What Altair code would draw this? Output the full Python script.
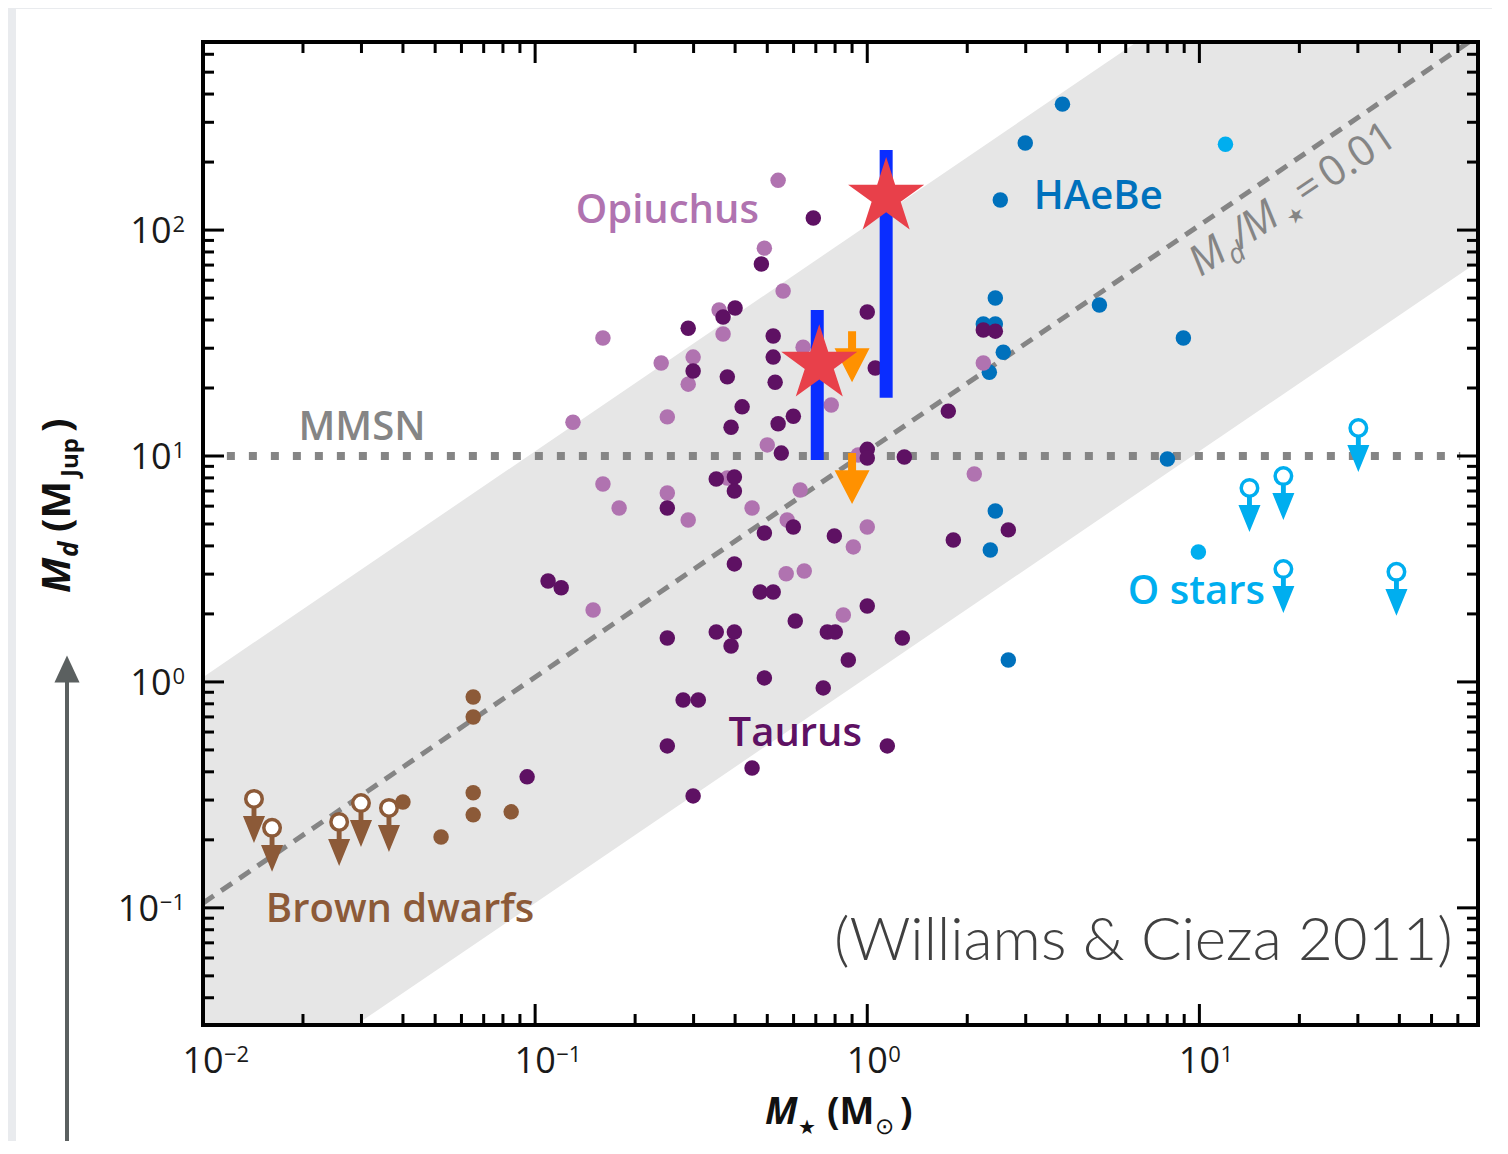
import math
import pandas as pd
import altair as alt

# ---------------- data ----------------
# Taurus (dark purple)
taurus_x = [0.688, 0.480, 0.400, 0.368, 0.289, 0.521, 0.521, 0.299, 0.379, 0.528,
            1.0, 1.057, 0.420, 0.599, 0.389, 0.539, 0.551, 1.0, 1.0, 1.293,
            0.351, 0.398, 0.398, 0.250, 0.490, 0.599, 0.796, 0.398, 0.1094, 0.1198,
            0.250, 0.351, 0.398, 0.389, 0.476, 0.521, 0.607, 0.758, 0.801, 1.0,
            1.275, 0.877, 0.490, 0.737, 0.279, 0.310, 0.250, 0.450, 0.299, 1.149,
            0.0946, 2.236, 2.430, 1.754, 2.659, 1.816]
taurus_y = [113, 70.8, 45.2, 41.2, 36.8, 34.0, 27.4, 23.8, 22.4, 21.2,
            43.4, 24.5, 16.5, 15.0, 13.4, 13.9, 10.3, 10.7, 9.80, 9.90,
            7.91, 8.07, 7.00, 5.89, 4.56, 4.85, 4.43, 3.33, 2.80, 2.61,
            1.565, 1.664, 1.664, 1.443, 2.50, 2.50, 1.862, 1.664, 1.664, 2.17,
            1.565, 1.251, 1.042, 0.941, 0.832, 0.832, 0.521, 0.416, 0.313, 0.521,
            0.380, 36.1, 35.7, 15.8, 4.71, 4.25]
# Ophiuchus (light purple)
oph_x = [0.539, 0.490, 0.558, 0.358, 0.368, 0.160, 0.2396, 0.299, 0.289, 0.130,
         0.250, 0.641, 0.779, 0.500, 0.939, 0.160, 0.250, 0.179, 0.289, 0.450,
         0.628, 0.574, 0.379, 1.0, 0.908, 0.570, 0.646, 0.1495, 0.847, 2.236, 2.10]
oph_y = [166, 83.2, 53.7, 44.3, 34.7, 33.3, 25.8, 27.4, 20.8, 14.1,
         14.9, 30.3, 16.8, 11.2, 10.1, 7.52, 6.86, 5.89, 5.21, 5.89,
         7.07, 5.21, 7.99, 4.85, 3.96, 3.01, 3.10, 2.08, 1.98, 25.8, 8.32]
# Herbig Ae/Be (blue)
hae_x = [3.87, 2.99, 2.515, 2.430, 2.236, 2.430, 2.568, 2.331, 5.00, 8.95, 8.01, 2.430, 2.347, 2.659]
hae_y = [361, 243, 136, 50.0, 38.4, 38.4, 28.8, 23.5, 46.6, 33.3, 9.70, 5.71, 3.84, 1.251]
# O stars (cyan): detections and upper limits
ost_x = [11.98, 9.93]
ost_y = [240, 3.76]
ost_lim_x = [30.1, 14.15, 17.9, 17.9, 39.2]
ost_lim_y = [13.3, 7.22, 8.15, 3.16, 3.07]
# Brown dwarfs: detections and upper limits
bd_x = [0.0651, 0.0651, 0.0651, 0.0651, 0.0521, 0.0847, 0.0400]
bd_y = [0.858, 0.700, 0.323, 0.258, 0.206, 0.266, 0.294]
bd_lim_x = [0.01424, 0.01614, 0.0257, 0.0299, 0.0363]
bd_lim_y = [0.3035, 0.226, 0.240, 0.291, 0.277]
# highlighted objects
star_x = [0.717, 1.14]
star_y = [25.5, 140]
bar_x = [0.707, 1.14]
bar_lo = [9.6, 18.1]
bar_hi = [44.3, 226]
orange_x = [0.90, 0.90]
orange_y = [35.7, 10.3]
# reference lines / band
line_x = [0.01, 69]
ratio_y = [0.105, 724]
band_lo = [0.0105, 72.5]
band_hi = [1.05, 7245]
mmsn_x = [0.0118, 61]
mmsn_y = [10, 10]
# tick values
x_major = [0.01, 0.1, 1, 10]
x_sup = ["\u22122", "\u22121", "0", "1"]
x_minor = [m * d for d in (0.01, 0.1, 1) for m in range(2, 10)] + [20, 30, 40, 50, 60]
y_major = [0.1, 1, 10, 100]
y_sup = ["\u22121", "0", "1", "2"]
y_minor = [0.04, 0.05, 0.06, 0.07, 0.08, 0.09] + [m * d for d in (0.1, 1, 10) for m in range(2, 10)] + [200, 300, 400, 500, 600]
# labels
label_text = ["Opiuchus", "HAeBe", "O stars", "Taurus", "Brown dwarfs", "MMSN"]
label_x = [0.250, 4.96, 9.79, 0.607, 0.0392, 0.0301]
label_y = [108, 124, 2.21, 0.521, 0.0867, 11.8]
label_color = ["#b073b0", "#0071bc", "#00aeef", "#5e1163", "#8c5a38", "#858585"]
cite_text = "(Williams & Cieza 2011)"
cite_x, cite_y = 6.78, 0.0589
ratio_lab_x, ratio_lab_y = 10.07, 61.9

# ---------------- chart ----------------
W, H = 1275, 983
FONT = "Open Sans"
XS = alt.Scale(type="log", domain=[0.01, 69], nice=False)
YS = alt.Scale(type="log", domain=[0.0303, 680], nice=False)


def xq(f):
    return alt.X(f"{f}:Q", scale=XS, axis=None)


def yq(f):
    return alt.Y(f"{f}:Q", scale=YS, axis=None)


one = pd.DataFrame({"k": [0]})

# custom shapes
pts = []
for k in range(10):
    a = -math.pi / 2 + k * math.pi / 5
    r = 1.0 if k % 2 == 0 else 0.382
    pts.append(f"{r*math.cos(a):.3f},{r*math.sin(a):.3f}")
STAR = "M" + "L".join(pts) + "Z"
LIM_ARROW = "M-0.14,-1L0.14,-1L0.14,-0.54L0.63,-0.54L0,1L-0.63,-0.54L-0.14,-0.54Z"
OR_ARROW = "M-0.157,-1L0.157,-1L0.157,-0.33L0.686,-0.33L0,1L-0.686,-0.33L-0.157,-0.33Z"
HEAD_UP = "M-0.93,1L0.93,1L0,-1Z"

layers = []
# white panel
layers.append(alt.Chart(one).mark_rect(color="white").encode(
    x=alt.value(-187), x2=alt.value(1293), y=alt.value(-33), y2=alt.value(1115)))
# grey band
band = pd.DataFrame({"x": line_x, "lo": band_lo, "hi": band_hi})
layers.append(alt.Chart(band).mark_area(color="#e6e6e6", clip=True).encode(
    x=xq("x"), y=yq("lo"), y2=alt.Y2("hi")))
# MMSN dotted line
layers.append(alt.Chart(pd.DataFrame({"x": mmsn_x, "y": mmsn_y})).mark_line(
    color="#858585", strokeWidth=8, strokeDash=[8, 14], clip=True).encode(x=xq("x"), y=yq("y")))
# ratio dashed line
layers.append(alt.Chart(pd.DataFrame({"x": line_x, "y": ratio_y})).mark_line(
    color="#858585", strokeWidth=5, strokeDash=[13, 9], clip=True).encode(x=xq("x"), y=yq("y")))


def dots(xs, ys, color):
    return alt.Chart(pd.DataFrame({"x": xs, "y": ys})).mark_circle(
        size=240, opacity=1, color=color).encode(x=xq("x"), y=yq("y"))


def limits(xs, ys, color):
    df = pd.DataFrame({"x": xs, "y": ys})
    arr = alt.Chart(df).mark_point(shape=LIM_ARROW, size=1225, filled=True, opacity=1,
                                   color=color, yOffset=26.5).encode(x=xq("x"), y=yq("y"))
    circ = alt.Chart(df).mark_point(shape="circle", size=272, fill="white", fillOpacity=1,
                                    stroke=color, strokeWidth=3.5, opacity=1).encode(x=xq("x"), y=yq("y"))
    return [arr, circ]


layers.append(dots(hae_x, hae_y, "#0071bc"))
layers.append(dots(ost_x, ost_y, "#00aeef"))
layers.append(dots(oph_x, oph_y, "#b073b0"))
layers.append(dots(taurus_x, taurus_y, "#5e1163"))
layers.append(dots(bd_x, bd_y, "#8c5a38"))
layers += limits(bd_lim_x, bd_lim_y, "#8c5a38")
layers += limits(ost_lim_x, ost_lim_y, "#00aeef")

# highlighted objects
layers.append(alt.Chart(pd.DataFrame({"x": bar_x, "lo": bar_lo, "hi": bar_hi})).mark_rule(
    color="#0a2dff", strokeWidth=13).encode(x=xq("x"), y=yq("lo"), y2=alt.Y2("hi")))
layers.append(alt.Chart(pd.DataFrame({"x": orange_x, "y": orange_y})).mark_point(
    shape=OR_ARROW, size=2601, filled=True, opacity=1, color="#ff9100", yOffset=25.5).encode(
    x=xq("x"), y=yq("y")))
layers.append(alt.Chart(pd.DataFrame({"x": star_x, "y": star_y})).mark_point(
    shape=STAR, size=6400, filled=True, opacity=1, color="#e8404a").encode(x=xq("x"), y=yq("y")))

# group labels
lab = pd.DataFrame({"t": label_text, "x": label_x, "y": label_y, "c": label_color})
layers.append(alt.Chart(lab).mark_text(font=FONT, fontSize=40, fontWeight=600, align="center",
                                       baseline="alphabetic").encode(
    x=xq("x"), y=yq("y"), text="t:N", color=alt.Color("c:N", scale=None)))
layers.append(alt.Chart(pd.DataFrame({"x": [cite_x], "y": [cite_y]})).mark_text(
    text=cite_text, font="Lato", fontWeight=300, fontSize=60, color="#404040", align="center",
    baseline="alphabetic").encode(x=xq("x"), y=yq("y")))

# rotated ratio label
ranchor = pd.DataFrame({"x": [ratio_lab_x], "y": [ratio_lab_y]})


def rpiece(t, dx, dy, size, style="normal"):
    return alt.Chart(ranchor).mark_text(text=t, font=FONT, fontSize=size, fontStyle=style, angle=326,
                                        align="left", baseline="alphabetic", dx=dx, dy=dy,
                                        color="#858585").encode(x=xq("x"), y=yq("y"))


layers += [rpiece("M", 0, 0, 42, "italic"), rpiece("d", 35, 10, 28, "italic"),
           rpiece("/", 50, 0, 42, "italic"), rpiece("M", 63, 0, 42, "italic"),
           rpiece("\u2605", 104, 9, 20), rpiece("=", 127, 0, 42), rpiece("0.01", 157, 0, 42)]

# inward ticks on all four sides
xmaj = pd.DataFrame({"v": x_major})
xmin = pd.DataFrame({"v": x_minor})
ymaj = pd.DataFrame({"v": y_major})
ymin = pd.DataFrame({"v": y_minor})
for df, ln in ((xmaj, 21), (xmin, 11)):
    layers.append(alt.Chart(df).mark_rule(color="black", strokeWidth=3).encode(
        x=xq("v"), y=alt.value(H), y2=alt.value(H - ln)))
    layers.append(alt.Chart(df).mark_rule(color="black", strokeWidth=3).encode(
        x=xq("v"), y=alt.value(0), y2=alt.value(ln)))
for df, ln in ((ymaj, 21), (ymin, 11)):
    layers.append(alt.Chart(df).mark_rule(color="black", strokeWidth=3).encode(
        y=yq("v"), x=alt.value(0), x2=alt.value(ln)))
    layers.append(alt.Chart(df).mark_rule(color="black", strokeWidth=3).encode(
        y=yq("v"), x=alt.value(W), x2=alt.value(W - ln)))
# frame
layers.append(alt.Chart(one).mark_rect(fillOpacity=0, stroke="black", strokeWidth=4).encode(
    x=alt.value(0), x2=alt.value(W), y=alt.value(0), y2=alt.value(H)))

# tick labels (10 with superscripts)
LC = "#1a1a1a"
xl = pd.DataFrame({"v": x_major, "s": x_sup})
layers.append(alt.Chart(xl).mark_text(text="10", font=FONT, fontSize=36, align="center",
                                      baseline="alphabetic", color=LC).encode(
    x=xq("v"), y=alt.value(H + 48)))
layers.append(alt.Chart(xl).mark_text(font=FONT, fontSize=22, align="left", dx=21,
                                      baseline="alphabetic", color=LC).encode(
    x=xq("v"), y=alt.value(H + 37), text="s:N"))
for nchar in (1, 2):
    sub = [(v, s) for v, s in zip(y_major, y_sup) if len(s) == nchar]
    df = pd.DataFrame({"v": [a for a, _ in sub], "s": [b for _, b in sub]})
    layers.append(alt.Chart(df).mark_text(text="10", font=FONT, fontSize=36, align="right",
                                          baseline="alphabetic", dy=13, color=LC).encode(
        x=alt.value(-18 - 12.5 * nchar - 1), y=yq("v")))
    layers.append(alt.Chart(df).mark_text(font=FONT, fontSize=22, align="right",
                                          baseline="alphabetic", dy=2, color=LC).encode(
        x=alt.value(-18), y=yq("v"), text="s:N"))


# axis titles built from pieces
def tpiece(t, x, y, size, style="normal", weight="bold", angle=0, dx=0, dy=0):
    kw = dict(text=t, font=FONT, fontSize=size, fontStyle=style, fontWeight=weight, align="left",
              baseline="alphabetic", color="#111111", dx=dx, dy=dy)
    if angle:
        kw["angle"] = angle
    return alt.Chart(one).mark_text(**kw).encode(x=alt.value(x), y=alt.value(y))


# x title: M* (Msun)
layers += [tpiece("M", 562, 1082, 37, "italic"), tpiece("\u2605", 595, 1092, 20, weight="normal"),
           tpiece("(M", 624, 1082, 37), tpiece("\u2299", 672, 1092, 23, weight="normal"),
           tpiece(")", 697, 1082, 37)]
# y title: Md (MJup), rotated
YA = (-133, 551)
layers += [tpiece("M", YA[0], YA[1], 40, "italic", angle=270),
           tpiece("d", YA[0], YA[1], 26, "italic", angle=270, dx=36, dy=8),
           tpiece("(M", YA[0], YA[1], 40, angle=270, dx=61),
           tpiece("Jup", YA[0], YA[1], 24, angle=270, dx=116, dy=8),
           tpiece(")", YA[0], YA[1], 40, angle=270, dx=161)]

# big arrow on the left
layers.append(alt.Chart(one).mark_rule(color="#5b6060", strokeWidth=4).encode(
    x=alt.value(-136), y=alt.value(636), y2=alt.value(1120)))
layers.append(alt.Chart(one).mark_point(shape=HEAD_UP, size=729, filled=True, opacity=1,
                                        color="#5b6060").encode(x=alt.value(-136), y=alt.value(627)))

chart = alt.layer(*layers).properties(
    width=W, height=H,
    padding={"left": 195, "top": 34, "right": 14, "bottom": 116},
    autosize=alt.AutoSizeParams(type="none"),
).configure(background="#e9ebee").configure_view(strokeWidth=0)

chart.save("out.html", embed_options={"renderer": "svg", "actions": False})
